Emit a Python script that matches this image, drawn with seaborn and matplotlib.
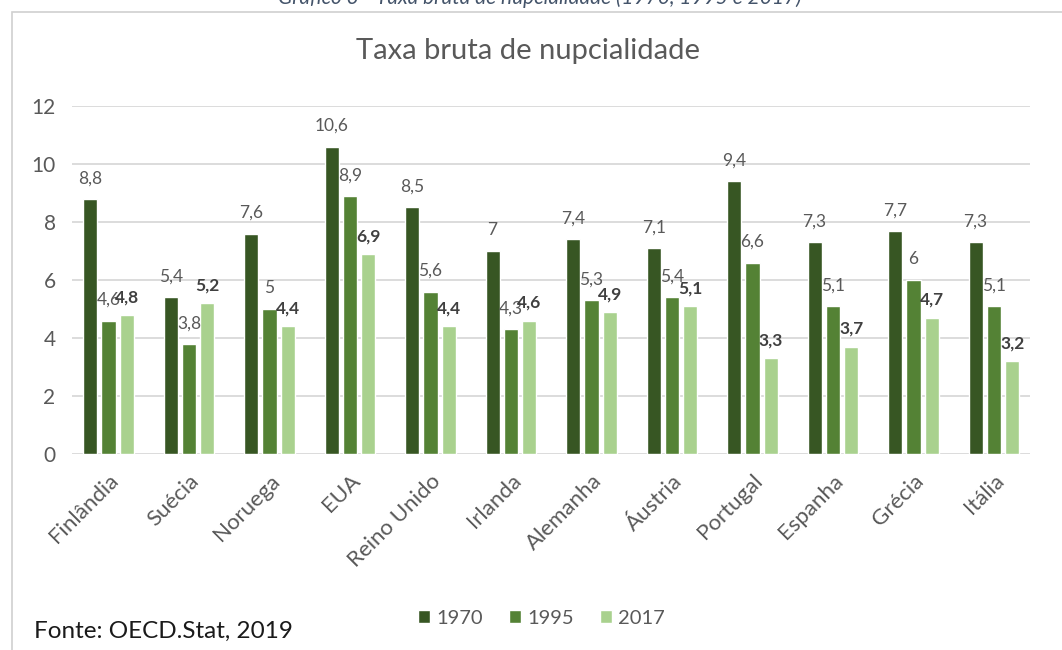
import pandas as pd
import matplotlib.pyplot as plt
import seaborn as sns
from matplotlib.patches import Rectangle

# data
paises = ['Finlândia', 'Suécia', 'Noruega', 'EUA', 'Reino Unido', 'Irlanda',
          'Alemanha', 'Áustria', 'Portugal', 'Espanha', 'Grécia', 'Itália']
anos = ['1970', '1995', '2017']
taxa_1970 = [8.8, 5.4, 7.6, 10.6, 8.5, 7.0, 7.4, 7.1, 9.4, 7.3, 7.7, 7.3]
taxa_1995 = [4.6, 3.8, 5.0, 8.9, 5.6, 4.3, 5.3, 5.4, 6.6, 5.1, 6.0, 5.1]
taxa_2017 = [4.8, 5.2, 4.4, 6.9, 4.4, 4.6, 4.9, 5.1, 3.3, 3.7, 4.7, 3.2]
cores = ['#375623', '#548235', '#A9D18E']

df = pd.DataFrame({'pais': paises * 3,
                   'ano': [a for a in anos for _ in paises],
                   'taxa': taxa_1970 + taxa_1995 + taxa_2017})

sns.set_style('white')
plt.rcParams['font.family'] = ['Lato', 'DejaVu Sans']

fig = plt.figure(figsize=(10.62, 6.5), dpi=100)
ax = fig.add_axes([0.068, 0.3015, 0.902, 0.5355])

sns.barplot(data=df, x='pais', y='taxa', hue='ano', palette=cores,
            width=0.68, gap=0.22, ax=ax, legend=True, saturation=1)

ax.set_ylim(0, 12)
ax.set_yticks(range(0, 13, 2))
ax.set_xlim(-0.45, 11.45)
ax.yaxis.grid(True, color='#D9D9D9', linewidth=1.3)
ax.set_axisbelow(True)
sns.despine(ax=ax, left=True, top=True, right=True, bottom=True)
ax.set_xlabel('')
ax.set_ylabel('')
ax.tick_params(axis='both', length=0, labelsize=15, labelcolor='#595959')
ax.tick_params(axis='x', labelsize=16, pad=12)
ax.tick_params(axis='y', pad=12)
plt.setp(ax.get_xticklabels(), rotation=45, ha='right', rotation_mode='anchor')

# data labels
for i, cont in enumerate(ax.containers):
    vals = [taxa_1970, taxa_1995, taxa_2017][i]
    labs = [f'{v:g}'.replace('.', ',') for v in vals]
    if i == 2:
        ax.bar_label(cont, labels=labs, padding=7, fontsize=12.5,
                     color='#404040', fontweight='bold')
    else:
        ax.bar_label(cont, labels=labs, padding=9, fontsize=12.5, color='#595959')

ax.legend(loc='center', bbox_to_anchor=(0.51, 0.049), bbox_transform=fig.transFigure,
          ncol=3, frameon=False, fontsize=14.5, handlelength=0.6, handleheight=0.6,
          handletextpad=0.3, columnspacing=1.3, labelcolor='#595959')

fig.text(0.497, 0.922, 'Taxa bruta de nupcialidade', ha='center', va='center',
         fontsize=21, color='#595959')
fig.text(0.032, 0.029, 'Fonte: OECD.Stat, 2019', ha='left', va='center',
         fontsize=17.5, color='#1a1a1a')
fig.text(0.508, 1.004, 'Gráfico 3 - Taxa bruta de nupcialidade (1970, 1995 e 2017)',
         ha='center', va='center', fontsize=15, style='italic', color='#44546A')

fig.patches.append(Rectangle((12 / 1062, -0.1), 1.1, 1.1 - 12 / 650,
                             transform=fig.transFigure, fill=False,
                             edgecolor='#D0D0D0', linewidth=1.2))

fig.savefig('out.png', dpi=100)
